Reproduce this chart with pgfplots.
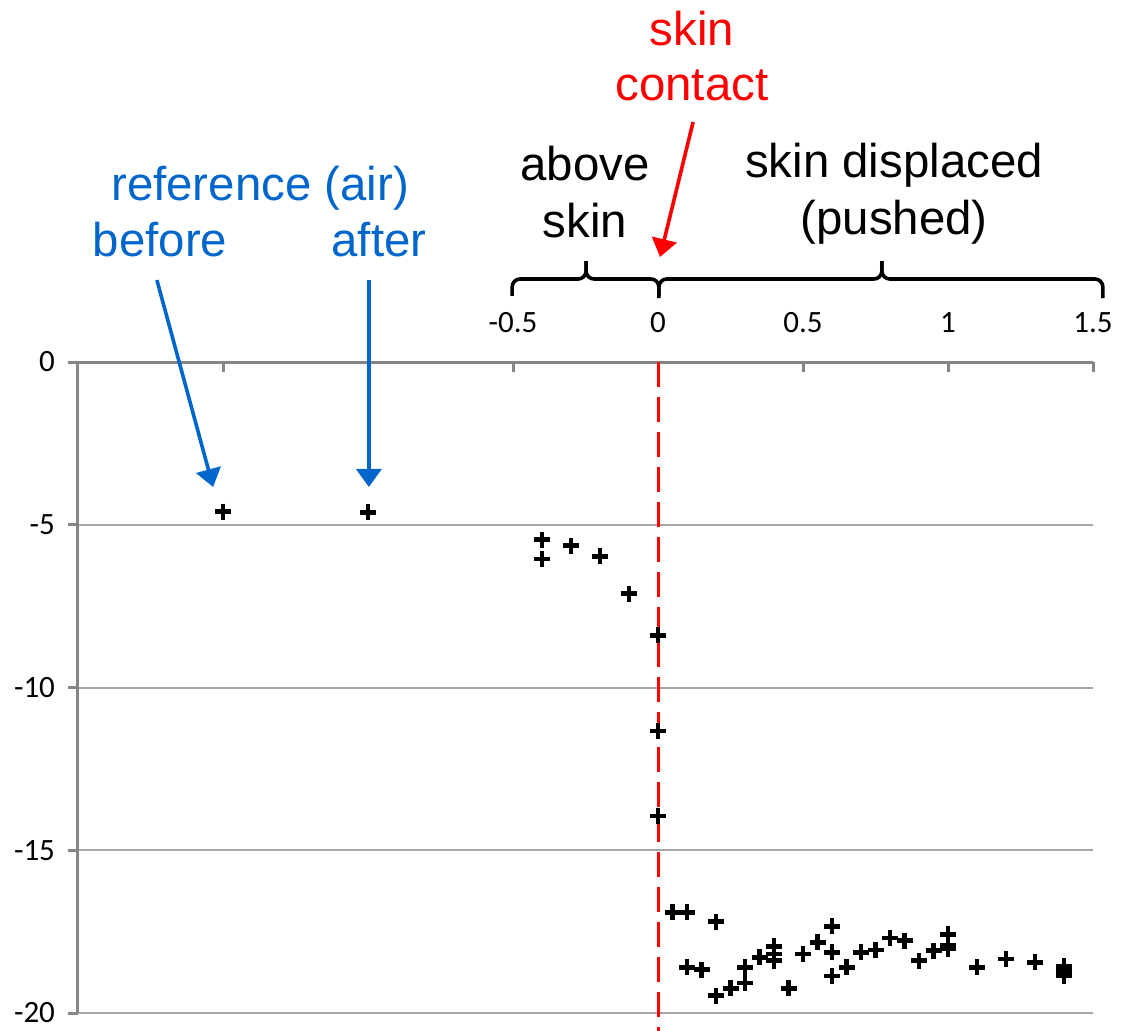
\documentclass[border=0pt]{standalone}
\usepackage{pgfplots}
\pgfplotsset{compat=1.18}
\usepackage{fontspec}
\setmainfont{Liberation Sans}
\newfontfamily\calibri{Carlito}
\usetikzlibrary{arrows.meta}
\definecolor{axgray}{HTML}{868686}
\definecolor{gridgray}{HTML}{A6A6A6}
\definecolor{annblue}{HTML}{0066CC}
\begin{document}
\begin{tikzpicture}
\begin{axis}[
  scale only axis, width=507.5pt, height=325.5pt,
  xmin=-2, xmax=1.5, ymin=-20, ymax=0,
  axis x line=top, axis y line=left,
  axis line style={-, draw=axgray, line width=1.5pt},
  xtick={-1.5,-1,-0.5,0,0.5,1,1.5},
  xticklabels={,,-0.5,0,0.5,1,1.5},
  ytick={-20,-15,-10,-5,0},
  yticklabels={-20,-15,-10,-5,0},
  xtick align=inside, ytick align=outside,
  major tick length=5pt,
  major tick style={draw=axgray, line width=1.5pt},
  ymajorgrids, major grid style={draw=gridgray, line width=1pt},
  tick label style={font=\calibri\fontsize{15.5}{18}\selectfont, text=black},
  xticklabel style={yshift=11pt},
  yticklabel style={xshift=-3pt},
  clip=false,
]
% red dashed skin-contact line
\draw[red, line width=1.5pt, dash pattern=on 12.5pt off 5pt] (axis cs:0,0) -- (axis cs:0,-20.6);

\addplot[only marks, mark=+, mark size=4pt, mark options={line width=2.3pt, black}] coordinates {
(-1.5,-4.60) (-1,-4.62)
(-0.4,-5.46) (-0.4,-6.05) (-0.3,-5.64) (-0.2,-5.97) (-0.1,-7.12)
(0,-8.40) (0,-11.34) (0,-13.95)
(0.05,-16.91) (0.1,-16.91) (0.2,-17.19) (0.1,-18.60) (0.15,-18.67)
(0.2,-19.47) (0.25,-19.24) (0.3,-19.08) (0.3,-18.60) (0.35,-18.29)
(0.4,-17.95) (0.4,-18.19) (0.4,-18.39) (0.45,-19.24) (0.5,-18.19)
(0.55,-17.83) (0.6,-17.34) (0.6,-18.14) (0.6,-18.86) (0.65,-18.60)
(0.7,-18.14) (0.75,-18.06) (0.8,-17.70) (0.85,-17.78) (0.9,-18.39)
(0.95,-18.08) (1.0,-17.58) (1.0,-17.91) (1.0,-18.02) (1.1,-18.60)
(1.2,-18.34) (1.3,-18.44) (1.4,-18.55) (1.4,-18.70) (1.4,-18.85)
};

% annotations
\begin{scope}[every node/.style={anchor=base, inner sep=0pt, font=\fontsize{23.7}{28}\selectfont}]
\node[text=annblue] at (axis cs:-1.372,4.977) {reference (air)};
\node[text=annblue] at (axis cs:-1.717,3.226) {before};
\node[text=annblue] at (axis cs:-0.962,3.226) {after};
\node[text=black] at (axis cs:-0.252,5.591) {above};
\node[text=black] at (axis cs:-0.252,3.840) {skin};
\node[text=red] at (axis cs:0.117,9.739) {skin};
\node[text=red] at (axis cs:0.117,8.049) {contact};
\node[text=black] at (axis cs:0.814,5.653) {skin displaced};
\node[text=black] at (axis cs:0.814,3.902) {(pushed)};
\end{scope}

\draw[annblue, line width=1.8pt, -{Triangle[width=12.5pt,length=9pt]}] (axis cs:-1.728,2.519) -- (axis cs:-1.534,-3.840);
\draw[annblue, line width=1.8pt, -{Triangle[width=12.5pt,length=9pt]}] (axis cs:-0.997,2.519) -- (axis cs:-0.997,-3.840);
\draw[red, line width=1.8pt, -{Triangle[width=12.5pt,length=9pt]}] (axis cs:0.121,7.373) -- (axis cs:0.007,3.226);

% brackets
\draw[line width=1.8pt, rounded corners=4pt] (axis cs:-0.503,2.028) -- (axis cs:-0.503,2.550) -- (axis cs:-0.248,2.550) -- (axis cs:-0.248,3.103);
\draw[line width=1.8pt, rounded corners=4pt] (axis cs:-0.248,3.103) -- (axis cs:-0.248,2.550) -- (axis cs:0.003,2.550) -- (axis cs:0.003,2.028);
\draw[line width=1.8pt, rounded corners=4pt] (axis cs:0.003,1.966) -- (axis cs:0.003,2.550) -- (axis cs:0.772,2.550) -- (axis cs:0.772,3.103);
\draw[line width=1.8pt, rounded corners=4pt] (axis cs:0.772,3.103) -- (axis cs:0.772,2.550) -- (axis cs:1.534,2.550) -- (axis cs:1.534,1.966);
\end{axis}
\pgfresetboundingbox
\path[use as bounding box] (-39pt,-8.5pt) rectangle (523pt,506.5pt);
\end{tikzpicture}
\end{document}
